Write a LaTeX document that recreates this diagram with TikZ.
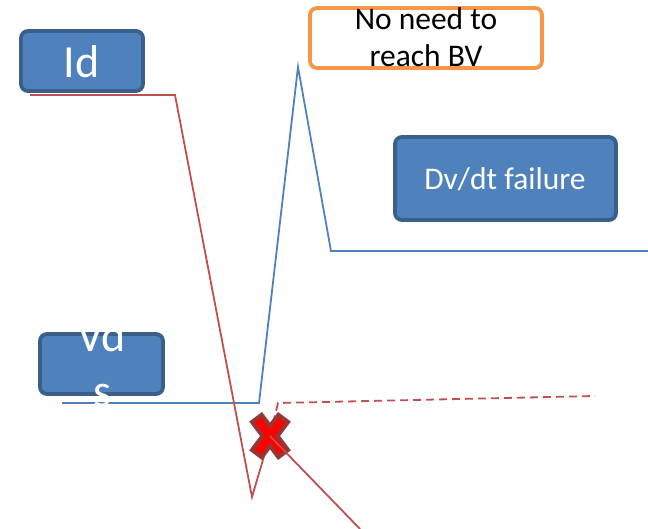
\documentclass[tikz,border=0pt]{standalone}
\usepackage{fontspec}
\setmainfont{Carlito}
\definecolor{boxfill}{HTML}{4F81BD}
\definecolor{boxedge}{HTML}{3A5F8B}
\definecolor{vline}{HTML}{4F81BD}
\definecolor{iline}{HTML}{C0504D}
\definecolor{orangeedge}{HTML}{F79646}
\definecolor{xdark}{HTML}{953735}
\definecolor{xred}{HTML}{FF0000}
\tikzset{
  bluebox/.style={draw=boxedge, fill=boxfill, line width=3.8pt, rounded corners=7pt, inner sep=0pt},
  orangebox/.style={draw=orangeedge, fill=white, line width=3.8pt, rounded corners=7pt, inner sep=0pt},
  whitetxt/.style={text=white, inner sep=0pt, anchor=base},
  blacktxt/.style={text=black, inner sep=0pt, anchor=base},
  vdsline/.style={draw=vline, line width=1.8pt},
  idline/.style={draw=iline, line width=1.8pt},
  iddash/.style={draw=iline, line width=1.8pt, dash pattern=on 8pt off 5pt},
}
\begin{document}
\begin{tikzpicture}[x=1pt,y=-1pt]
\useasboundingbox (0,0) rectangle (648,529);
% boxes
\node[bluebox, minimum width=122pt, minimum height=60pt] (idbox) at (82,61) {};
\node[orangebox, minimum width=232pt, minimum height=60pt] (nbbox) at (426,38) {};
\node[bluebox, minimum width=221pt, minimum height=83pt] (dvbox) at (505.5,178.5) {};
\node[bluebox, minimum width=123pt, minimum height=60pt] (vdsbox) at (101.5,364) {};
% coordinates
\coordinate (i0) at (30,95);
\coordinate (i1) at (175,95);
\coordinate (i2) at (252,497);
\coordinate (xc) at (270,436);
\coordinate (i3) at (278,403);
\coordinate (i4) at (595,396);
\coordinate (i5) at (360,529);
\coordinate (v0) at (62,403);
\coordinate (v1) at (259,403);
\coordinate (v2) at (298,67);
\coordinate (v3) at (331,251);
\coordinate (v4) at (648,251);
% lines
\draw[vdsline] (v0) -- (v1) -- (v2) -- (v3) -- (v4);
\draw[idline] (i0) -- (i1) -- (i2) -- (xc);
\draw[iddash] (xc) -- (i3) -- (i4);
% X mark
\draw[xdark, line width=16pt] (255.6,416.8) -- (284.4,455.2) (284.4,416.8) -- (255.6,455.2);
\draw[xred, line width=8pt] (258,420) -- (282,452) (282,420) -- (258,452);
\draw[idline] (xc) -- (i5);
% texts
\node[whitetxt, font=\fontsize{46}{54}\selectfont] (idtxt) at (81.5,78) {Id};
\node[blacktxt, font=\fontsize{31.5}{37}\selectfont] (nb1) at (426,30) {No need to};
\node[blacktxt, font=\fontsize{31.5}{37}\selectfont] (nb2) at (426,67) {reach BV};
\node[whitetxt, font=\fontsize{31.5}{37}\selectfont] (dvtxt) at (505,190) {Dv/dt failure};
\node[whitetxt, font=\fontsize{46}{54}\selectfont] (vd) at (102,352) {Vd};
\node[whitetxt, font=\fontsize{46}{54}\selectfont] (vs) at (102,406) {s};
\end{tikzpicture}
\end{document}
